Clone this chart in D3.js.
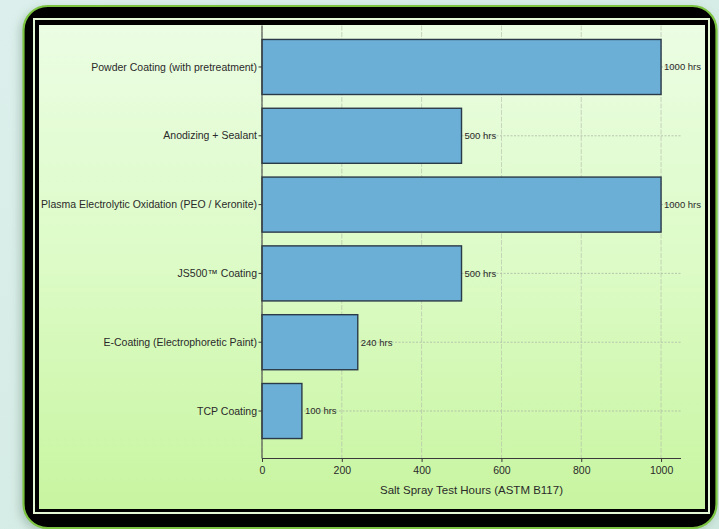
<!DOCTYPE html>
<html>
<head>
<meta charset="utf-8">
<script src="https://cdn.jsdelivr.net/npm/d3@7"></script>
<style>
  html, body { margin: 0; padding: 0; background: #d6ece8; }
  svg { display: block; }
  text { font-family: "Liberation Sans", Arial, sans-serif; fill: #2a2a2a; }
</style>
</head>
<body>
<svg id="chart" width="719" height="529"></svg>
<script>
// Coating processes and their salt spray endurance (hours, ASTM B117)
const categories = [
  "Powder Coating (with pretreatment)",
  "Anodizing + Sealant",
  "Plasma Electrolytic Oxidation (PEO / Keronite)",
  "JS500\u2122 Coating",
  "E-Coating (Electrophoretic Paint)",
  "TCP Coating"
];
const hours = [1000, 500, 1000, 500, 240, 100];
const valueLabels = ["1000 hrs", "500 hrs", "1000 hrs", "500 hrs", "240 hrs", "100 hrs"];
const xTicks = [0, 200, 400, 600, 800, 1000];
const xTitle = "Salt Spray Test Hours (ASTM B117)";

const svg = d3.select("#chart");
const W = 719, H = 529;

const defs = svg.append("defs");
const bg = defs.append("linearGradient").attr("id", "bg")
  .attr("x1", 0).attr("y1", 0).attr("x2", 1).attr("y2", 1);
bg.append("stop").attr("offset", 0).attr("stop-color", "#dcefec");
bg.append("stop").attr("offset", 1).attr("stop-color", "#cfe8df");

const panel = defs.append("linearGradient").attr("id", "panel")
  .attr("x1", 0).attr("y1", 0).attr("x2", 0).attr("y2", 1);
panel.append("stop").attr("offset", 0).attr("stop-color", "#ebfde3");
panel.append("stop").attr("offset", 0.5).attr("stop-color", "#dcfbc6");
panel.append("stop").attr("offset", 1).attr("stop-color", "#c8f5a0");

const shadow = defs.append("filter").attr("id", "shadow")
  .attr("x", "-10%").attr("y", "-10%").attr("width", "120%").attr("height", "120%");
shadow.append("feDropShadow").attr("dx", -3).attr("dy", 3).attr("stdDeviation", 4)
  .attr("flood-color", "#7a9a8a").attr("flood-opacity", 0.45);

// page background
svg.append("rect").attr("width", W).attr("height", H).attr("fill", "url(#bg)");

// framed card
svg.append("rect")
  .attr("x", 23.5).attr("y", 6).attr("width", 693).attr("height", 522)
  .attr("rx", 24).attr("ry", 24)
  .attr("fill", "#000").attr("stroke", "#7cc443").attr("stroke-width", 2.2)
  .attr("filter", "url(#shadow)");
svg.append("rect")
  .attr("x", 34).attr("y", 19).attr("width", 675).attr("height", 494)
  .attr("fill", "none").attr("stroke", "#e4f8d6").attr("stroke-width", 2);
svg.append("rect")
  .attr("x", 39).attr("y", 25).attr("width", 666).attr("height", 484)
  .attr("fill", "url(#panel)");

// plot geometry
const plotLeft = 262, plotRight = 681, plotTop = 19.5, plotBottom = 458.5, visTop = 25.5;

const x = d3.scaleLinear().domain([0, 1050]).range([plotLeft, plotRight]);
const y = d3.scaleBand().domain(categories).range([plotTop, plotBottom])
  .paddingInner(0.2).paddingOuter(0.29);

const g = svg.append("g");

// vertical grid
g.append("g").selectAll("line").data(xTicks).join("line")
  .attr("x1", d => x(d)).attr("x2", d => x(d))
  .attr("y1", visTop).attr("y2", plotBottom)
  .attr("stroke", "#b3bcaa").attr("stroke-width", 0.8)
  .attr("stroke-dasharray", "5,1.5").attr("opacity", 0.8);

// horizontal grid at category centres
g.append("g").selectAll("line").data(categories).join("line")
  .attr("x1", plotLeft).attr("x2", plotRight)
  .attr("y1", d => y(d) + y.bandwidth() / 2).attr("y2", d => y(d) + y.bandwidth() / 2)
  .attr("stroke", "#a9b5a2").attr("stroke-width", 0.9)
  .attr("stroke-dasharray", "2,1.5").attr("opacity", 0.85);

// bars
g.append("g").selectAll("rect").data(categories).join("rect")
  .attr("x", x(0))
  .attr("y", d => y(d))
  .attr("width", (d, i) => x(hours[i]) - x(0))
  .attr("height", y.bandwidth())
  .attr("fill", "#6baed6")
  .attr("stroke", "#2b3a48").attr("stroke-width", 1.4);

// value labels
g.append("g").selectAll("text").data(categories).join("text")
  .attr("x", (d, i) => x(hours[i]) + 3)
  .attr("y", d => y(d) + y.bandwidth() / 2)
  .attr("dy", "0.35em")
  .attr("font-size", 9.5)
  .text((d, i) => valueLabels[i]);

// left spine and ticks
g.append("line").attr("x1", plotLeft).attr("x2", plotLeft).attr("y1", visTop).attr("y2", plotBottom)
  .attr("stroke", "#3a3a3a").attr("stroke-width", 1);
g.append("g").selectAll("line").data(categories).join("line")
  .attr("x1", plotLeft - 3.5).attr("x2", plotLeft)
  .attr("y1", d => y(d) + y.bandwidth() / 2).attr("y2", d => y(d) + y.bandwidth() / 2)
  .attr("stroke", "#3a3a3a");
g.append("g").selectAll("text").data(categories).join("text")
  .attr("x", plotLeft - 5)
  .attr("y", d => y(d) + y.bandwidth() / 2)
  .attr("dy", "0.35em")
  .attr("text-anchor", "end")
  .attr("font-size", 10.5)
  .text(d => d);

// bottom axis
const xAxis = g.append("g").attr("transform", `translate(0,${plotBottom})`)
  .call(d3.axisBottom(x).tickValues(xTicks).tickSize(3.5).tickPadding(5).tickFormat(d3.format("d")));
xAxis.select(".domain").attr("stroke", "#3a3a3a").attr("d", `M${plotLeft},0H${plotRight}`);
xAxis.selectAll(".tick line").attr("stroke", "#3a3a3a");
xAxis.selectAll(".tick text").attr("font-size", 10.5).attr("fill", "#2a2a2a")
  .attr("font-family", "Liberation Sans, Arial, sans-serif");

g.append("text")
  .attr("x", (plotLeft + plotRight) / 2).attr("y", 494)
  .attr("text-anchor", "middle")
  .attr("font-size", 11.5)
  .text(xTitle);
</script>
</body>
</html>
